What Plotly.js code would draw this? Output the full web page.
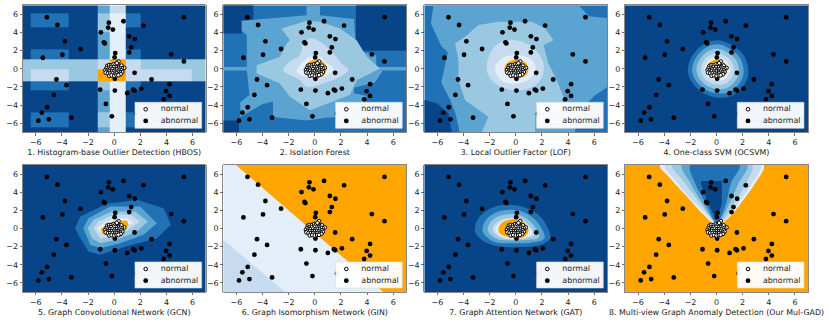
<!DOCTYPE html>
<html>
<head>
<meta charset="utf-8">
<script src="https://cdn.plot.ly/plotly-3.0.1.min.js"></script>
<style>html,body{margin:0;padding:0;background:#fff}</style>
</head>
<body>
<div id="chart"></div>
<script>
// Eight outlier detectors on the same toy data, decision regions

const titles = [
    '1. Histogram-base Outlier Detection (HBOS)',
    '2. Isolation Forest',
    '3. Local Outlier Factor (LOF)',
    '4. One-class SVM (OCSVM)',
    '5. Graph Convolutional Network (GCN)',
    '6. Graph Isomorphism Network (GIN)',
    '7. Graph Attention Network (GAT)',
    '8. Multi-view Graph Anomaly Detection (Our Mul-GAD)'
];
const tickValues = [-6, -4, -2, 0, 2, 4, 6];
const keyLabels = ['normal', 'abnormal'];

const abnormalX = [-5.15, -4.34, -3.78, -2.58, -3.96, -5.46, -4.42, -3.65, -4.62, -5.13, -5.54, -5.8, -5.0, -3.27, -0.64, -0.18, -1.07, 0.05, 1.0, 1.46, 1.56, 2.07, 2.86, 1.56, 0.05, 0.03, 0.08, 1.15, 1.3, 1.58, 1.15, -0.1, -0.46, -0.41, -1.02, -0.79, -0.72, 0.71, 2.24, 4.36, 5.33, 5.33, 4.23, 3.97, 4.23, 3.78, 1.7];
const abnormalY = [5.68, 4.83, 3.03, 2.18, 1.55, 1.22, -1.18, -1.81, -2.88, -4.24, -4.83, -5.72, -5.57, -5.39, -3.87, -5.24, -2.29, -2.4, -2.69, -2.29, -2.4, -2.18, -1.18, -0.44, -1.1, 1.25, 1.73, 1.81, 2.36, 3.28, 3.58, 4.32, 4.54, 5.09, 4.02, 2.92, 2.8, 5.24, 4.76, 1.59, 0.81, 5.68, -1.7, -2.47, -2.99, -3.36, -4.95];
const normalX = [-0.53, -0.39, -0.22, -0.05, 0.1, 0.28, 0.33, 0.2, 0.42, 0.55, 0.77, 0.6, 0.45, 0.3, 0.12, -0.05, -0.25, -0.45, -0.6, -0.68, -0.5, -0.33, -0.12, 0.05, 0.22, 0.38, 0.55, 0.62, 0.45, 0.28, 0.12, -0.06, -0.22, -0.4, -0.58, -0.65, -0.48, -0.3, -0.12, 0.05, 0.2, 0.38, 0.5, -0.38, -0.2, 0.0, 0.18, 0.32];
const normalY = [0.33, 0.4, 0.38, 0.5, 0.45, 0.42, 0.81, 0.62, 0.3, 0.35, 0.11, 0.05, 0.1, 0.12, 0.18, 0.2, 0.15, 0.1, 0.05, -0.15, -0.12, -0.08, -0.02, -0.1, -0.05, -0.12, -0.18, -0.35, -0.38, -0.3, -0.32, -0.28, -0.3, -0.28, -0.32, -0.42, -0.5, -0.5, -0.5, -0.55, -0.5, -0.55, -0.6, -0.77, -0.72, -0.78, -0.72, -0.7];

// colours of the filled levels, darkest first, the last one is the inlier region
const levelColors = ['#084488', '#2171b5', '#5ba3d0', '#9ac8e0', '#c6dbef', '#e3eef8', '#ffa500'];
const wholeFrame = [[-7, -7], [7, -7], [7, 7], [-7, 7]];

// HBOS is a histogram so its regions are cells
const hbosXEdges = [-7, -6.36, -3.45, -1.28, -0.31, 0.87, 1.99, 5.95, 7];
const hbosYEdges = [-7, -6.42, -4.76, -2.36, -1.37, -0.04, 1.07, 2.18, 4.02, 4.58, 6.13, 7];
const hbosLevels = [
    [0, 0, 0, 2, 5, 0, 0, 0],
    [0, 1, 0, 3, 5, 1, 0, 0],
    [0, 0, 0, 2, 5, 0, 0, 0],
    [0, 1, 0, 3, 5, 1, 0, 0],
    [3, 4, 3, 6, 6, 4, 4, 3],
    [3, 3, 3, 4, 6, 4, 3, 3],
    [0, 1, 0, 2, 5, 1, 0, 0],
    [0, 0, 0, 2, 5, 0, 0, 0],
    [0, 0, 0, 3, 5, 0, 0, 0],
    [0, 1, 0, 3, 5, 1, 0, 0],
    [0, 0, 0, 2, 4, 0, 0, 0]
];

// Isolation Forest outlines
const iforestDarkTL = [[-7, 7], [-4.7, 7], [-4.7, 4.6], [-5.5, 4.6], [-5.6, 3.9], [-7, 3.9]];
const iforestDarkTR = [[3.15, 7], [7, 7], [7, 2.0], [3.15, 2.0]];
const iforestDarkBL = [[-7, -5.7], [-5.8, -5.7], [-5.8, -7], [-7, -7]];
const iforestL2 = [[-0.63, 7], [0.4, 7], [0.4, 5.9], [3, 5.5], [3.15, 2.05], [4.7, 1.5], [4.7, 0.2], [7, 0.2], [7, -0.2], [5.2, -0.2], [4.6, -1.5], [3.6, -1.9], [3, -2.1], [3, -2.7], [4, -3], [3.6, -4.2], [2, -5.3], [0.9, -5.4], [-0.6, -5.7], [-3.2, -5.3], [-3.2, -3.6], [-4, -3.9], [-5.7, -5.3], [-5.7, -3.7], [-5, -2.9], [-5.2, -0.2], [-7, -0.2], [-7, 0.2], [-5.2, 0.2], [-5.2, 3.7], [-5.6, 4.2], [-5.6, 5.3], [-4.7, 5.4], [-0.63, 5.9]];
const iforestL3 = [[-1.9, 3.16], [-2.54, 4.45], [-0.63, 5.29], [0.4, 5.18], [1.93, 4.45], [3.2, 3.16], [3.97, 1.32], [4.99, 0.04], [3.2, -1.25], [2.69, -2.9], [-0.37, -4.56], [-1.9, -3.09], [-2.67, -1.62], [-4.45, -0.51], [-4.45, 0.4], [-2.67, 1.32], [-2.16, 2.79]];
const iforestL4 = [[-0.37, 3.35], [0.4, 2.98], [1.42, 1.69], [2.18, 0.4], [2.56, -0.07], [1.93, -0.88], [0.65, -1.62], [-0.63, -1.99], [-1.14, -1.25], [-2.41, -0.15], [-1.9, 0.77], [-1.14, 1.51], [-0.88, 2.79]];
const iforestL5 = [[-0.63, 1.14], [0.4, 1.32], [0.78, 0.77], [1.42, 0.04], [0.78, -0.88], [0.14, -1.18], [-0.63, -0.96], [-1.39, -0.33], [-1.14, 0.4]];
const iforestInlier = [[0.09, 0.99], [0.5, 0.85], [0.8, 0.5], [0.91, 0], [0.8, -0.52], [0.5, -0.89], [0.09, -1.03], [-0.32, -0.89], [-0.62, -0.52], [-0.73, 0], [-0.62, 0.5], [-0.32, 0.85]];

// LOF outlines
const lofL0 = [[-7, -7], [-7, -3.45], [-6.05, -3.8], [-5.15, -4.9], [-4.9, -7]];
const lofL2 = [[-6.3, 7], [4.8, 7], [5.6, 5.8], [7, 5.6], [7, -2], [6, -3], [5, -4.5], [4.5, -7], [-4.3, -7], [-4.6, -5], [-5, -3.5], [-5.7, -1.5], [-5.2, 1.8], [-5.7, 2.5], [-6.5, 5]];
const lofL3 = [[-2.86, 4.82], [-1.33, 5.18], [1.23, 5.18], [2.25, 4.45], [2.89, 3.16], [2.12, 2.61], [2.5, 0.59], [3.14, -1.25], [3.65, -3.09], [3.27, -4.56], [1.48, -4.93], [1.48, -7], [-2.6, -7], [-2.1, -5.29], [-3.88, -3.46], [-4.39, -1.25], [-4.39, 0.96], [-4.65, 2.79], [-3.88, 3.53]];
const lofL4 = [[-1.33, 2.79], [-0.05, 3.16], [1.23, 2.43], [2.12, 0.59], [1.87, -1.25], [0.97, -2.17], [-0.31, -2.35], [-1.58, -1.62], [-2.22, -0.15], [-1.97, 1.69]];
const lofL5 = [[-0.82, 1.32], [0.2, 1.5], [1.23, 0.96], [1.53, 0.04], [1.1, -1.07], [0.2, -1.62], [-0.95, -1.43], [-1.58, -0.15], [-1.4, 0.66]];
const lofInlier = [[0.05, 0.99], [0.52, 0.85], [0.85, 0.5], [0.97, -0.04], [0.85, -0.55], [0.52, -0.92], [0.05, -1.07], [-0.42, -0.92], [-0.75, -0.55], [-0.87, -0.04], [-0.75, 0.5], [-0.42, 0.85]];

// OCSVM outlines
const ocsvmL1 = [[0, 3.16], [1.05, 2.7], [2.08, 1.5], [2.45, -0.33], [2.2, -1.6], [1.3, -2.9], [0.28, -3.2], [-1, -2.7], [-1.9, -1.44], [-2.2, -0.15], [-1.9, 1.32], [-1.1, 2.6]];
const ocsvmL2 = [[0, 2.7], [0.9, 2.3], [1.77, 1.28], [2.08, -0.28], [1.87, -1.36], [1.1, -2.47], [0.24, -2.72], [-0.85, -2.3], [-1.62, -1.22], [-1.87, -0.13], [-1.62, 1.12], [-0.94, 2.21]];
const ocsvmL3 = [[0, 2.2], [0.74, 1.89], [1.46, 1.05], [1.72, -0.23], [1.54, -1.12], [0.91, -2.03], [0.2, -2.24], [-0.7, -1.89], [-1.33, -1.01], [-1.54, -0.1], [-1.33, 0.92], [-0.77, 1.82]];
const ocsvmL4 = [[0, 1.74], [0.58, 1.49], [1.14, 0.83], [1.35, -0.18], [1.21, -0.88], [0.72, -1.6], [0.15, -1.76], [-0.55, -1.49], [-1.05, -0.79], [-1.21, -0.08], [-1.05, 0.73], [-0.6, 1.43]];
const ocsvmL5 = [[0, 1.33], [0.44, 1.13], [0.87, 0.63], [1.03, -0.14], [0.92, -0.67], [0.55, -1.22], [0.12, -1.34], [-0.42, -1.13], [-0.8, -0.6], [-0.92, -0.06], [-0.8, 0.55], [-0.46, 1.09]];
const ocsvmInlier = [[0, 1.03], [0.38, 0.9], [0.7, 0.5], [0.83, 0], [0.72, -0.52], [0.4, -0.9], [0.05, -1], [-0.35, -0.88], [-0.67, -0.48], [-0.78, -0.03], [-0.67, 0.45], [-0.37, 0.85]];

// GCN outlines
const gcnL1 = [[-2.99, 0.04], [-2.6, 1.32], [-0.56, 2.72], [1.74, 3.16], [3.78, 2.24], [4.34, 0.4], [3.27, -1.07], [0.71, -2.06], [-1.07, -2.9], [-1.97, -2.54], [-2.6, -1.07]];
const gcnL2 = [[-2.35, 0.04], [-1.97, 1.14], [-0.31, 2.43], [1.99, 2.43], [3.27, 0.59], [2.25, -0.7], [0.46, -1.62], [-1.07, -2.17], [-1.84, -1.8]];
const gcnL3 = [[-2.02, 0.04], [-1.58, 0.96], [-0.18, 1.88], [1.61, 1.88], [2.58, 0.77], [1.74, -0.33], [0.2, -1.25], [-1.07, -1.62], [-1.71, -1.07]];
const gcnL4 = [[-1.58, 0.04], [-1.2, 0.77], [-0.05, 1.51], [1.23, 1.51], [1.99, 0.77], [1.1, -0.15], [-0.05, -0.96], [-1.07, -1.07]];
const gcnL5 = [[-1.33, 0.04], [-0.82, 0.59], [0.08, 1.14], [0.97, 1.14], [1.48, 0.7], [0.71, 0.04], [-0.05, -0.7], [-0.94, -0.59]];
const gcnInlier = [[-1.02, -0.04], [-0.61, 0.4], [0.08, 0.85], [0.97, 0.85], [1.1, 0.4], [0.77, -0.33], [0.2, -0.96], [-0.31, -0.96], [-0.94, -0.51]];

// GIN outlines, its regions are straight cuts
const ginL4 = [[-7, -7], [-7, -1.25], [-2.28, -7]];
const ginInlier = [[-6.03, 7], [7, 7], [7, -7], [5.24, -7]];

// GAT outlines
const gatL1 = [[-3.12, -0.33], [-2.86, 1.14], [-1.58, 2.43], [0.2, 2.5], [1.87, 1.32], [2.63, -1.07], [1.87, -1.8], [-0.05, -2.06], [-1.58, -1.91], [-2.61, -1.25]];
const gatL2 = [[-2.53, -0.33], [-2.27, 0.96], [-1.33, 1.88], [0.2, 1.99], [1.48, 0.96], [2.2, -1.07], [1.23, -1.54], [-0.31, -1.62], [-1.71, -1.43]];
const gatL3 = [[-2.15, -0.22], [-1.89, 0.77], [-1.2, 1.4], [0.2, 1.51], [1.23, 0.59], [1.79, -0.96], [0.97, -1.25], [-0.43, -1.32], [-1.58, -1.07]];
const gatL4 = [[-1.79, -0.15], [-1.58, 0.51], [-1.02, 1.03], [0.2, 1.14], [0.97, 0.4], [1.43, -0.7], [0.72, -1.07], [-0.43, -1.18], [-1.33, -0.88]];
const gatL5 = [[-1.58, -0.07], [-1.28, 0.59], [-0.82, 0.96], [0.2, 1.03], [0.84, 0.4], [1.23, -0.51], [0.59, -1.07], [-0.43, -1.18], [-1.2, -0.81]];
const gatInlier = [[-1.33, -0.04], [-1.02, 0.7], [-0.05, 1.03], [0.72, 0.59], [0.97, -0.33], [0.46, -1.07], [-0.56, -0.96], [-1.2, -0.59]];

// Mul-GAD outlines, everything outside the wedge is inlier
const mulgadL5 = [[-4.32, 7], [-3.55, 5.55], [-2.27, 3.53], [-1, 1.51], [-0.1, 0.4], [0.15, 0.4], [1.05, 1.32], [2.07, 3.16], [2.96, 5], [3.6, 7]];
const mulgadL4 = [[-3.93, 7], [-3.18, 5.37], [-1.89, 3.16], [-0.74, 1.51], [-0.05, 0.4], [0.1, 0.4], [0.92, 1.32], [1.82, 3.16], [2.72, 5], [3.35, 7]];
const mulgadL3 = [[-3.4, 7], [-2.5, 5.18], [-1.38, 2.98], [-0.49, 1.32], [-0.05, 0.5], [0.1, 0.5], [0.59, 1.14], [1.43, 2.98], [2.34, 5.18], [2.72, 7]];
const mulgadL2 = [[-2.64, 7], [-2, 5], [-1, 2.6], [-0.36, 1.14], [-0.03, 0.6], [0.08, 0.6], [0.41, 1.14], [1.05, 2.98], [1.69, 5], [2.34, 7]];
const mulgadL1 = [[-2, 7], [-1.64, 5], [-0.69, 2.43], [-0.23, 0.96], [-0.02, 0.7], [0.05, 0.7], [0.23, 0.96], [0.74, 2.79], [1.1, 5], [1.76, 7]];
const mulgadL0 = [[-1.18, 5.25], [0.41, 5.25], [0.41, 2.8], [0.1, 1.3], [-0.15, 1.3], [-0.69, 2.98], [-1.18, 4.9]];

// layers per panel: [level, outline, smooth]
const panelLayers = [
    [],
    [[1, wholeFrame], [0, iforestDarkTL], [0, iforestDarkTR], [0, iforestDarkBL], [2, iforestL2], [3, iforestL3], [4, iforestL4, true], [5, iforestL5, true], [6, iforestInlier, true]],
    [[1, wholeFrame], [0, lofL0], [2, lofL2], [3, lofL3], [4, lofL4, true], [5, lofL5, true], [6, lofInlier, true]],
    [[0, wholeFrame], [1, ocsvmL1, true], [2, ocsvmL2, true], [3, ocsvmL3, true], [4, ocsvmL4, true], [5, ocsvmL5, true], [6, ocsvmInlier, true]],
    [[0, wholeFrame], [1, gcnL1], [2, gcnL2], [3, gcnL3], [4, gcnL4], [5, gcnL5], [6, gcnInlier]],
    [[5, wholeFrame], [4, ginL4], [6, ginInlier]],
    [[0, wholeFrame], [1, gatL1, true], [2, gatL2, true], [3, gatL3, true], [4, gatL4, true], [5, gatL5, true], [6, gatInlier, true]],
    [[6, wholeFrame], [5, mulgadL5, true], [4, mulgadL4, true], [3, mulgadL3, true], [2, mulgadL2, true], [1, mulgadL1, true], [0, mulgadL0]]
];

// the key sits in axis units, plotly's own legend has a minimum row height far above this one
const keyBox = [[1.59, -6.56], [6.69, -6.56], [6.69, -3.69], [1.59, -3.69]];
const keyMarkerX = [2.41, 2.41];
const keyTextX = [3.56, 3.56];
const keyY = [-4.46, -5.75];

const figW = 830, figH = 322;
const panelLefts = [22.7, 223.3, 424.3, 625];
const panelTops = [5.3, 165];
const panelW = 183, panelH = 127;
const textFont = { family: 'DejaVu Sans', size: 7.9, color: '#1a1a1a' };
const normalMarker = { size: 3.6, color: '#ffffff', line: { color: '#000000', width: 1 } };
const abnormalMarker = { size: 4.8, color: '#000000' };

function outlineTrace(layer, xa, ya) {
    const pts = layer[1].concat([layer[1][0]]);
    return {
        x: pts.map(p => p[0]),
        y: pts.map(p => p[1]),
        xaxis: xa, yaxis: ya,
        type: 'scatter', mode: 'lines',
        line: { width: 0, shape: layer[2] ? 'spline' : 'linear', color: levelColors[layer[0]] },
        fill: 'toself', fillcolor: levelColors[layer[0]],
        hoverinfo: 'skip', showlegend: false
    };
}

function keyTraces(xa, ya) {
    const box = keyBox.concat([keyBox[0]]);
    return [
        {
            x: box.map(p => p[0]), y: box.map(p => p[1]), xaxis: xa, yaxis: ya,
            type: 'scatter', mode: 'lines', line: { width: 0.6, color: '#dcdcdc' },
            fill: 'toself', fillcolor: 'rgba(255,255,255,0.95)', hoverinfo: 'skip', showlegend: false
        },
        {
            x: keyMarkerX.slice(0, 1), y: keyY.slice(0, 1), xaxis: xa, yaxis: ya,
            type: 'scatter', mode: 'markers', marker: normalMarker, hoverinfo: 'skip', showlegend: false
        },
        {
            x: keyMarkerX.slice(1), y: keyY.slice(1), xaxis: xa, yaxis: ya,
            type: 'scatter', mode: 'markers', marker: abnormalMarker, hoverinfo: 'skip', showlegend: false
        },
        {
            x: keyTextX, y: keyY, text: keyLabels, xaxis: xa, yaxis: ya,
            type: 'scatter', mode: 'text', textposition: 'middle right', textfont: textFont,
            hoverinfo: 'skip', showlegend: false
        }
    ];
}

const traces = [];
const layout = {
    width: figW, height: figH,
    margin: { l: 0, r: 0, t: 0, b: 0 },
    paper_bgcolor: '#ffffff', plot_bgcolor: '#ffffff',
    showlegend: false,
    font: textFont
};

titles.forEach((title, i) => {
    const n = i === 0 ? '' : String(i + 1);
    const xa = 'x' + n, ya = 'y' + n;
    const left = panelLefts[i % 4], top = panelTops[Math.floor(i / 4)];

    if (i === 0) {
        traces.push({
            type: 'heatmap', x: hbosXEdges, y: hbosYEdges, z: hbosLevels,
            xaxis: xa, yaxis: ya, zmin: 0, zmax: 6,
            colorscale: levelColors.map((c, k) => [k / 6, c]),
            showscale: false, hoverinfo: 'skip'
        });
    }
    panelLayers[i].forEach(layer => traces.push(outlineTrace(layer, xa, ya)));

    traces.push({
        x: abnormalX, y: abnormalY, xaxis: xa, yaxis: ya, name: 'abnormal',
        type: 'scatter', mode: 'markers', marker: abnormalMarker
    });
    traces.push({
        x: normalX, y: normalY, xaxis: xa, yaxis: ya, name: 'normal',
        type: 'scatter', mode: 'markers', marker: normalMarker
    });
    keyTraces(xa, ya).forEach(t => traces.push(t));

    layout['xaxis' + n] = {
        domain: [left / figW, (left + panelW) / figW],
        anchor: ya, range: [-7, 7], tickvals: tickValues,
        ticks: 'outside', ticklen: 2.5, tickwidth: 0.7, tickcolor: '#333',
        showline: true, mirror: true, linecolor: '#555', linewidth: 0.7,
        showgrid: false, zeroline: false,
        tickfont: textFont,
        title: { text: title, font: textFont, standoff: 3 }
    };
    layout['yaxis' + n] = {
        domain: [1 - (top + panelH) / figH, 1 - top / figH],
        anchor: xa, range: [-7, 7], tickvals: tickValues,
        ticks: 'outside', ticklen: 2.5, tickwidth: 0.7, tickcolor: '#333',
        showline: true, mirror: true, linecolor: '#555', linewidth: 0.7,
        showgrid: false, zeroline: false,
        tickfont: textFont
    };
});

Plotly.newPlot('chart', traces, layout, { displayModeBar: false, staticPlot: true });
</script>
</body>
</html>
